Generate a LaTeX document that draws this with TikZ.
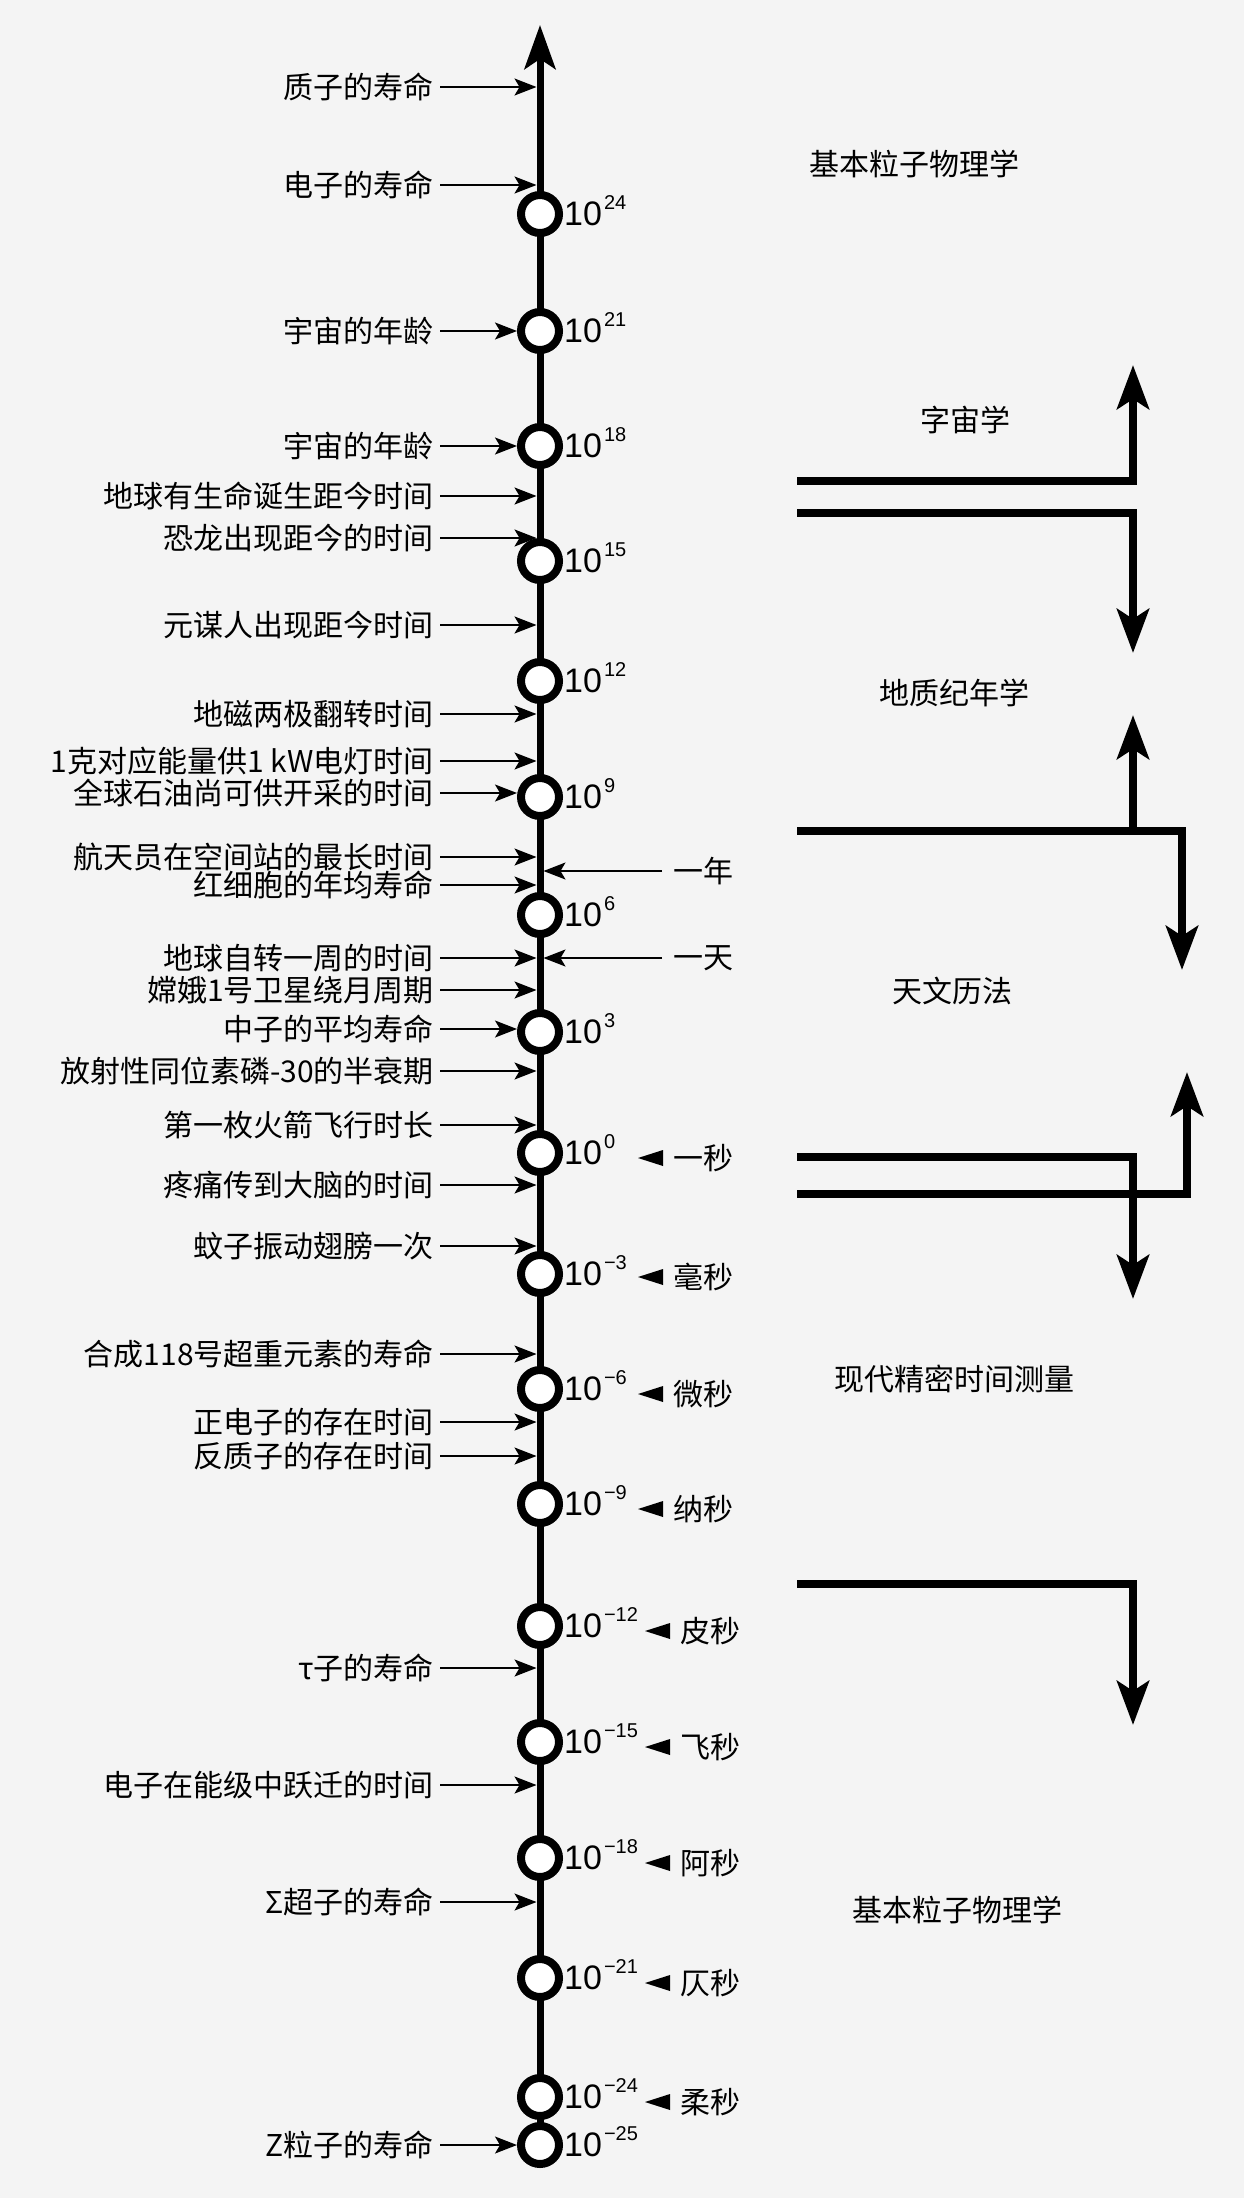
\documentclass[tikz,border=0pt]{standalone}
\usepackage{fontspec}
\setmainfont{Noto Sans CJK SC}
\newfontfamily\numfont{Liberation Sans}
\usepackage{xcolor}
\usetikzlibrary{arrows.meta}

\definecolor{paper}{HTML}{F4F4F4}
\newcommand{\tenpow}[1]{10\kern2pt\raisebox{16pt}{\fontsize{20}{22}\selectfont #1}}

\tikzset{
  tick/.style={circle, draw=black, fill=white, line width=8pt, minimum size=38pt, inner sep=0pt},
  expo/.style={anchor=base west, inner sep=0pt, font=\numfont\fontsize{34}{40}\selectfont},
  lbl/.style={anchor=east, inner xsep=6pt, inner ysep=0pt, font=\fontsize{30}{36}\selectfont},
  unit/.style={anchor=west, inner sep=0pt, font=\fontsize{30}{36}\selectfont},
  field/.style={inner sep=0pt, font=\fontsize{30}{36}\selectfont},
  pointer/.style={-{Stealth[length=22pt, width=17pt, inset=5pt]}, line width=1.5pt},
  branch/.style={-{Stealth[length=44pt, width=32pt, inset=10pt]}, line width=8pt, line join=miter},
}

\begin{document}
\begin{tikzpicture}[x=1pt, y=-1pt]
\fill[paper] (0,0) rectangle (1244,2198);
%% axis
\coordinate (top) at (540,25);
\coordinate (bottom) at (540,2145);
\draw[line width=7pt, -{Stealth[length=44pt, width=31pt, inset=10pt]}] (bottom) -- (top);
%% ticks
\foreach \n/\e/\y in {t24/24/214, t21/21/331, t18/18/446, t15/15/561, t12/12/681,
    t9/9/797, t6/6/915, t3/3/1032, t0/0/1153, tm3/−3/1274, tm6/−6/1389, tm9/−9/1504,
    tm12/−12/1626, tm15/−15/1742, tm18/−18/1858, tm21/−21/1978, tm24/−24/2097, tm25/−25/2145}{
  \node[tick] (\n) at (540,\y) {};
  \node[expo] (x\n) at (564,\y+11) {\tenpow{\e}};
}
%% events on the axis
\foreach \y/\txt in {87/质子的寿命, 185/电子的寿命, 496/地球有生命诞生距今时间,
    538/恐龙出现距今的时间, 625/元谋人出现距今时间, 714/地磁两极翻转时间,
    761/1克对应能量供1 kW电灯时间, 857/航天员在空间站的最长时间, 885/红细胞的年均寿命,
    958/地球自转一周的时间, 990/嫦娥1号卫星绕月周期, 1071/放射性同位素磷-30的半衰期,
    1125/第一枚火箭飞行时长, 1185/疼痛传到大脑的时间, 1246/蚊子振动翅膀一次,
    1354/合成118号超重元素的寿命, 1422/正电子的存在时间, 1456/反质子的存在时间,
    1668/τ子的寿命, 1785/电子在能级中跃迁的时间, 1902/Σ超子的寿命}{
  \node[lbl] (e\y) at (440,\y) {\txt};
  \coordinate (a\y) at (536.5,\y);
  \draw[pointer] (e\y) -- (a\y);
}
%% events on a tick
\foreach \y/\txt/\n in {331/宇宙的年龄/t21, 446/宇宙的年龄/t18, 793/全球石油尚可供开采的时间/t9,
    1029/中子的平均寿命/t3, 2145/Z粒子的寿命/tm25}{
  \node[lbl] (e\y) at (440,\y) {\txt};
  \draw[pointer] (e\y) -- (e\y -| \n.west);
}
%% year, day
\foreach \y/\txt in {871/一年, 958/一天}{
  \node[unit, inner xsep=11pt] (u\y) at (662,\y) {\txt};
  \coordinate (b\y) at (543.5,\y);
  \draw[pointer] (u\y) -- (b\y);
}
%% units
\foreach \y/\txt/\dx in {1158/一秒/0, 1277/毫秒/0, 1394/微秒/0, 1509/纳秒/0, 1631/皮秒/7,
    1747/飞秒/7, 1863/阿秒/7, 1983/仄秒/7, 2102/柔秒/7}{
  \fill ({663+\dx},\y-8) -- ++(0,16) -- ++(-25,-8) -- cycle;
  \node[unit] (u\y) at ({673+\dx},\y) {\txt};
}
%% fields
\node[field] (f1) at (914,164) {基本粒子物理学};
\node[field] (f2) at (965,420) {字宙学};
\node[field] (f3) at (954,693) {地质纪年学};
\node[field] (f4) at (952,991) {天文历法};
\node[field] (f5) at (954,1379) {现代精密时间测量};
\node[field] (f6) at (957,1910) {基本粒子物理学};
\draw[branch] (797,481) -| (1133,365);
\draw[branch] (797,513) -| (1133,653);
\draw[branch] (797,831) -| (1182,970);
\draw[branch] (1133,835) -- (1133,715);
\draw[branch] (797,1157) -| (1133,1299);
\draw[branch] (797,1194) -| (1187,1072);
\draw[branch] (797,1584) -| (1133,1725);
\end{tikzpicture}
\end{document}
